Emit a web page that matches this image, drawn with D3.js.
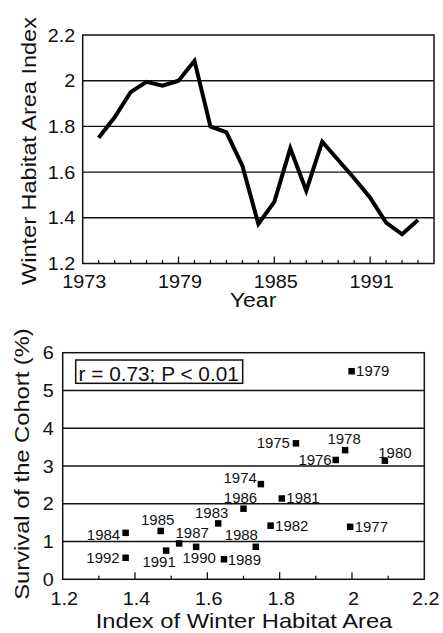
<!DOCTYPE html>
<html><head><meta charset="utf-8">
<script src="https://cdn.jsdelivr.net/npm/d3@7"></script>
<style>
html,body{margin:0;padding:0;background:#fff;}
svg{display:block;font-family:"Liberation Sans",Arial,Helvetica,sans-serif;}
</style></head>
<body><svg id="c" width="443" height="633"></svg>
<script>
// ---- Data: top panel (time series) ----
const years = [1974,1975,1976,1977,1978,1979,1980,1981,1982,1983,1984,1985,1986,1987,1988,1989,1990,1991,1992,1993,1994];
const habitatIndex = [1.75,1.84,1.95,1.995,1.978,2.0,2.087,1.80,1.774,1.628,1.373,1.47,1.704,1.519,1.733,1.653,1.573,1.488,1.379,1.328,1.39];
const topYTicks = [1.2,1.4,1.6,1.8,2.0,2.2];
const topYLabels = ["1.2","1.4","1.6","1.8","2","2.2"];
const topXTicks = [1973,1979,1985,1991];

// ---- Data: bottom panel (scatter) ----
const scatterYears = ["1974","1975","1976","1977","1978","1979","1980","1981","1982","1983","1984","1985","1986","1987","1988","1989","1990","1991","1992"];
const scatterX = [1.748,1.845,1.955,1.995,1.981,1.999,2.091,1.806,1.775,1.630,1.374,1.471,1.700,1.522,1.734,1.646,1.569,1.486,1.374];
const survival = [2.52,3.60,3.16,1.39,3.42,5.51,3.14,2.14,1.42,1.48,1.23,1.28,1.87,0.95,0.86,0.53,0.86,0.76,0.57];
const botXTicks = [1.2,1.4,1.6,1.8,2.0,2.2];
const botXLabels = ["1.2","1.4","1.6","1.8","2","2.2"];
const botYTicks = [0,1,2,3,4,5,6];
const statText = "r = 0.73; P < 0.01";

// label placement (layout, not data)
const labelLayout = {
  "1979":["start",4.5,5],"1975":["end",-6,5],"1978":["middle",-1,-6],"1976":["end",-4,5],
  "1980":["middle",10,-3],"1974":["end",-4,-1],"1981":["start",4.5,5],"1986":["middle",-3,-6],
  "1982":["start",4.5,5],"1977":["start",4.5,5],"1983":["middle",-6.5,-5],"1985":["middle",-3,-5.5],
  "1984":["end",-5.5,7],"1987":["middle",13,-5.5],"1990":["middle",3,16],"1988":["middle",-14.5,-6.5],
  "1991":["middle",-7,16],"1992":["end",-6,5.5],"1989":["start",3.7,6]
};

const svg = d3.select("#c");
const ink = "#111";

function stretchText(g, x, y, str, size, sx, anchor, rot){
  return g.append("text")
    .attr("transform", `translate(${x},${y})` + (rot ? ` rotate(${rot})` : "") + ` scale(${sx},1)`)
    .attr("font-size", size).attr("text-anchor", anchor).attr("fill", ink).text(str);
}

// ===== Top panel =====
const tx = d3.scaleLinear().domain([1973,1995]).range([82.7,434]);
const ty = d3.scaleLinear().domain([1.2,2.2]).range([263.5,35]);
const topG = svg.append("g");

topG.selectAll("line.grid").data(topYTicks.slice(1,-1)).join("line")
  .attr("x1", tx.range()[0]).attr("x2", tx.range()[1])
  .attr("y1", d=>ty(d)).attr("y2", d=>ty(d))
  .attr("stroke", ink).attr("stroke-width", 1.4);

const allYears = d3.range(1974,1995);
topG.selectAll("line.tk").data(allYears).join("line")
  .attr("x1", d=>tx(d)).attr("x2", d=>tx(d))
  .attr("y1", ty(1.2)).attr("y2", d=> ty(1.2) - (topXTicks.includes(d) ? 7 : 3.5))
  .attr("stroke", ink).attr("stroke-width", 1.3);

topG.append("rect").attr("x", tx.range()[0]).attr("y", ty(2.2))
  .attr("width", tx.range()[1]-tx.range()[0]).attr("height", ty(1.2)-ty(2.2))
  .attr("fill","none").attr("stroke", ink).attr("stroke-width", 1.5);

topYTicks.forEach((v,i)=>{
  stretchText(topG, tx.range()[0]-7.5, ty(v)+6.5, topYLabels[i], 18, 1.1, "end");
});
topXTicks.forEach(v=>{
  stretchText(topG, tx(v)+1.5, 287.7, String(v), 18, 1.1, "middle");
});
stretchText(topG, 253, 307, "Year", 21, 1.1, "middle");
stretchText(topG, 35.5, 151, "Winter Habitat Area Index", 21, 1.12, "middle", -90);

const line = d3.line().x((d,i)=>tx(years[i])).y(d=>ty(d));
topG.append("path").datum(habitatIndex).attr("d", line)
  .attr("fill","none").attr("stroke","#000").attr("stroke-width",4)
  .attr("stroke-linejoin","miter").attr("stroke-miterlimit",10);

// ===== Bottom panel =====
const bx = d3.scaleLinear().domain([1.2,2.2]).range([62.7,424.3]);
const by = d3.scaleLinear().domain([0,6]).range([579.3,352.7]);
const botG = svg.append("g");

botG.selectAll("line.grid").data(botYTicks.slice(1,-1)).join("line")
  .attr("x1", bx.range()[0]).attr("x2", bx.range()[1])
  .attr("y1", d=>by(d)).attr("y2", d=>by(d))
  .attr("stroke", ink).attr("stroke-width", 1.4);

const minorX = d3.range(13,22).map(d=>d/10);
botG.selectAll("line.tk").data(minorX).join("line")
  .attr("x1", d=>bx(d)).attr("x2", d=>bx(d))
  .attr("y1", by(0)).attr("y2", (d,i)=> by(0) - (i%2===1 ? 7 : 3.5))
  .attr("stroke", ink).attr("stroke-width", 1.3);

botG.append("rect").attr("x", bx.range()[0]).attr("y", by(6))
  .attr("width", bx.range()[1]-bx.range()[0]).attr("height", by(0)-by(6))
  .attr("fill","none").attr("stroke", ink).attr("stroke-width", 1.5);

botYTicks.forEach(v=>{
  stretchText(botG, bx.range()[0]-9, by(v)+6.5, String(v), 18, 1.1, "end");
});
botXTicks.forEach((v,i)=>{
  stretchText(botG, bx(v)+1.5, 605, botXLabels[i], 18, 1.1, "middle");
});
stretchText(botG, 244, 628, "Index of Winter Habitat Area", 21, 1.13, "middle");
stretchText(botG, 29, 464, "Survival of the Cohort (%)", 21, 1.13, "middle", -90);

botG.append("text").attr("x", 78.5).attr("y", 380.5)
  .attr("font-size", 20.8).attr("fill", ink).text(statText);
botG.append("rect").attr("x", 75.7).attr("y", 360).attr("width", 167).attr("height", 23.3)
  .attr("fill","none").attr("stroke", ink).attr("stroke-width", 1.5);

const ms = 6.5;
botG.selectAll("rect.pt").data(scatterYears).join("rect")
  .attr("x", (d,i)=>bx(scatterX[i])-ms/2).attr("y", (d,i)=>by(survival[i])-ms/2)
  .attr("width", ms).attr("height", ms).attr("fill","#000");

scatterYears.forEach((yr,i)=>{
  const L = labelLayout[yr];
  stretchText(botG, bx(scatterX[i])+L[1], by(survival[i])+L[2], yr, 14, 1.07, L[0]);
});
</script></body></html>
